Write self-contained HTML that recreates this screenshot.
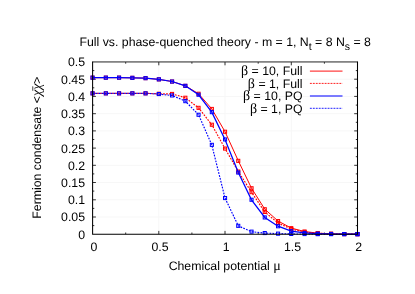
<!DOCTYPE html>
<html><head><meta charset="utf-8"><style>
html,body{margin:0;padding:0;background:#fff;}
svg{display:block;text-rendering:geometricPrecision;font-family:"Liberation Sans",sans-serif;fill:#000;}
</style></head><body>
<svg width="415" height="294" viewBox="0 0 415 294" style="will-change:transform;opacity:0.999">
<rect width="415" height="294" fill="#fff"/>
<g stroke="#f7f7f7" stroke-width="1"><line x1="92.6" y1="217.0" x2="357.5" y2="217.0"/><line x1="92.6" y1="199.8" x2="357.5" y2="199.8"/><line x1="92.6" y1="182.5" x2="357.5" y2="182.5"/><line x1="92.6" y1="165.3" x2="357.5" y2="165.3"/><line x1="92.6" y1="148.1" x2="357.5" y2="148.1"/><line x1="92.6" y1="130.9" x2="357.5" y2="130.9"/><line x1="92.6" y1="113.7" x2="357.5" y2="113.7"/><line x1="92.6" y1="96.4" x2="357.5" y2="96.4"/><line x1="92.6" y1="79.2" x2="357.5" y2="79.2"/><line x1="158.8" y1="234.2" x2="158.8" y2="62.0"/><line x1="225.0" y1="234.2" x2="225.0" y2="62.0"/><line x1="291.3" y1="234.2" x2="291.3" y2="62.0"/></g>
<g stroke="#000" stroke-width="0.8"><line x1="92.6" y1="225.6" x2="94.3" y2="225.6"/><line x1="357.5" y1="225.6" x2="355.8" y2="225.6"/><line x1="92.6" y1="217.0" x2="95.89999999999999" y2="217.0"/><line x1="357.5" y1="217.0" x2="354.2" y2="217.0"/><line x1="92.6" y1="208.4" x2="94.3" y2="208.4"/><line x1="357.5" y1="208.4" x2="355.8" y2="208.4"/><line x1="92.6" y1="199.8" x2="95.89999999999999" y2="199.8"/><line x1="357.5" y1="199.8" x2="354.2" y2="199.8"/><line x1="92.6" y1="191.1" x2="94.3" y2="191.1"/><line x1="357.5" y1="191.1" x2="355.8" y2="191.1"/><line x1="92.6" y1="182.5" x2="95.89999999999999" y2="182.5"/><line x1="357.5" y1="182.5" x2="354.2" y2="182.5"/><line x1="92.6" y1="173.9" x2="94.3" y2="173.9"/><line x1="357.5" y1="173.9" x2="355.8" y2="173.9"/><line x1="92.6" y1="165.3" x2="95.89999999999999" y2="165.3"/><line x1="357.5" y1="165.3" x2="354.2" y2="165.3"/><line x1="92.6" y1="156.7" x2="94.3" y2="156.7"/><line x1="357.5" y1="156.7" x2="355.8" y2="156.7"/><line x1="92.6" y1="148.1" x2="95.89999999999999" y2="148.1"/><line x1="357.5" y1="148.1" x2="354.2" y2="148.1"/><line x1="92.6" y1="139.5" x2="94.3" y2="139.5"/><line x1="357.5" y1="139.5" x2="355.8" y2="139.5"/><line x1="92.6" y1="130.9" x2="95.89999999999999" y2="130.9"/><line x1="357.5" y1="130.9" x2="354.2" y2="130.9"/><line x1="92.6" y1="122.3" x2="94.3" y2="122.3"/><line x1="357.5" y1="122.3" x2="355.8" y2="122.3"/><line x1="92.6" y1="113.7" x2="95.89999999999999" y2="113.7"/><line x1="357.5" y1="113.7" x2="354.2" y2="113.7"/><line x1="92.6" y1="105.1" x2="94.3" y2="105.1"/><line x1="357.5" y1="105.1" x2="355.8" y2="105.1"/><line x1="92.6" y1="96.4" x2="95.89999999999999" y2="96.4"/><line x1="357.5" y1="96.4" x2="354.2" y2="96.4"/><line x1="92.6" y1="87.8" x2="94.3" y2="87.8"/><line x1="357.5" y1="87.8" x2="355.8" y2="87.8"/><line x1="92.6" y1="79.2" x2="95.89999999999999" y2="79.2"/><line x1="357.5" y1="79.2" x2="354.2" y2="79.2"/><line x1="92.6" y1="70.6" x2="94.3" y2="70.6"/><line x1="357.5" y1="70.6" x2="355.8" y2="70.6"/><line x1="125.7" y1="234.2" x2="125.7" y2="232.5"/><line x1="125.7" y1="62.0" x2="125.7" y2="63.7"/><line x1="158.8" y1="234.2" x2="158.8" y2="230.89999999999998"/><line x1="158.8" y1="62.0" x2="158.8" y2="65.3"/><line x1="191.9" y1="234.2" x2="191.9" y2="232.5"/><line x1="191.9" y1="62.0" x2="191.9" y2="63.7"/><line x1="225.0" y1="234.2" x2="225.0" y2="230.89999999999998"/><line x1="225.0" y1="62.0" x2="225.0" y2="65.3"/><line x1="258.2" y1="234.2" x2="258.2" y2="232.5"/><line x1="258.2" y1="62.0" x2="258.2" y2="63.7"/><line x1="291.3" y1="234.2" x2="291.3" y2="230.89999999999998"/><line x1="291.3" y1="62.0" x2="291.3" y2="65.3"/><line x1="324.4" y1="234.2" x2="324.4" y2="232.5"/><line x1="324.4" y1="62.0" x2="324.4" y2="63.7"/></g>
<polyline points="92.6,77.7 105.8,77.7 119.1,77.7 132.3,77.8 145.6,78.2 158.8,79.4 172.1,81.5 185.3,85.8 198.6,93.8 211.8,108.9 225.0,131.7 238.3,160.8 251.5,188.2 264.8,209.2 278.0,221.0 291.3,228.1 304.5,231.5 317.8,233.2 331.0,233.8 344.3,234.0 357.5,234.1" fill="none" stroke="#ff0000" stroke-width="1.0"/>
<rect x="91.0" y="76.1" width="3.1" height="3.1" fill="#ff0000" fill-opacity="0.18" stroke="#ff0000" stroke-width="1.0"/>
<rect x="104.3" y="76.1" width="3.1" height="3.1" fill="#ff0000" fill-opacity="0.18" stroke="#ff0000" stroke-width="1.0"/>
<rect x="117.5" y="76.1" width="3.1" height="3.1" fill="#ff0000" fill-opacity="0.18" stroke="#ff0000" stroke-width="1.0"/>
<rect x="130.8" y="76.3" width="3.1" height="3.1" fill="#ff0000" fill-opacity="0.18" stroke="#ff0000" stroke-width="1.0"/>
<rect x="144.0" y="76.6" width="3.1" height="3.1" fill="#ff0000" fill-opacity="0.18" stroke="#ff0000" stroke-width="1.0"/>
<rect x="157.3" y="77.8" width="3.1" height="3.1" fill="#ff0000" fill-opacity="0.18" stroke="#ff0000" stroke-width="1.0"/>
<rect x="170.5" y="80.0" width="3.1" height="3.1" fill="#ff0000" fill-opacity="0.18" stroke="#ff0000" stroke-width="1.0"/>
<rect x="183.8" y="84.3" width="3.1" height="3.1" fill="#ff0000" fill-opacity="0.18" stroke="#ff0000" stroke-width="1.0"/>
<rect x="197.0" y="92.2" width="3.1" height="3.1" fill="#ff0000" fill-opacity="0.18" stroke="#ff0000" stroke-width="1.0"/>
<rect x="210.3" y="107.4" width="3.1" height="3.1" fill="#ff0000" fill-opacity="0.18" stroke="#ff0000" stroke-width="1.0"/>
<rect x="223.5" y="130.2" width="3.1" height="3.1" fill="#ff0000" fill-opacity="0.18" stroke="#ff0000" stroke-width="1.0"/>
<rect x="236.7" y="159.3" width="3.1" height="3.1" fill="#ff0000" fill-opacity="0.18" stroke="#ff0000" stroke-width="1.0"/>
<rect x="250.0" y="186.7" width="3.1" height="3.1" fill="#ff0000" fill-opacity="0.18" stroke="#ff0000" stroke-width="1.0"/>
<rect x="263.2" y="207.7" width="3.1" height="3.1" fill="#ff0000" fill-opacity="0.18" stroke="#ff0000" stroke-width="1.0"/>
<rect x="276.5" y="219.5" width="3.1" height="3.1" fill="#ff0000" fill-opacity="0.18" stroke="#ff0000" stroke-width="1.0"/>
<rect x="289.7" y="226.6" width="3.1" height="3.1" fill="#ff0000" fill-opacity="0.18" stroke="#ff0000" stroke-width="1.0"/>
<rect x="303.0" y="230.0" width="3.1" height="3.1" fill="#ff0000" fill-opacity="0.18" stroke="#ff0000" stroke-width="1.0"/>
<rect x="316.2" y="231.6" width="3.1" height="3.1" fill="#ff0000" fill-opacity="0.18" stroke="#ff0000" stroke-width="1.0"/>
<rect x="329.5" y="232.2" width="3.1" height="3.1" fill="#ff0000" fill-opacity="0.18" stroke="#ff0000" stroke-width="1.0"/>
<rect x="342.7" y="232.5" width="3.1" height="3.1" fill="#ff0000" fill-opacity="0.18" stroke="#ff0000" stroke-width="1.0"/>
<rect x="355.9" y="232.6" width="3.1" height="3.1" fill="#ff0000" fill-opacity="0.18" stroke="#ff0000" stroke-width="1.0"/>

<polyline points="92.6,93.3 105.8,93.3 119.1,93.3 132.3,93.3 145.6,93.3 158.8,93.8 172.1,93.9 185.3,97.7 198.6,107.9 211.8,124.7 225.0,148.5 238.3,171.5 251.5,192.2 264.8,212.0 278.0,223.0 291.3,229.0 304.5,232.0 317.8,233.3 331.0,233.9 344.3,234.1 357.5,234.1" fill="none" stroke="#ff0000" stroke-width="1.15" stroke-dasharray="1.75,1.25" stroke-dashoffset="1.5"/>
<rect x="91.0" y="91.8" width="3.1" height="3.1" fill="#ff0000" fill-opacity="0.18" stroke="#ff0000" stroke-width="1.0"/>
<rect x="104.3" y="91.8" width="3.1" height="3.1" fill="#ff0000" fill-opacity="0.18" stroke="#ff0000" stroke-width="1.0"/>
<rect x="117.5" y="91.8" width="3.1" height="3.1" fill="#ff0000" fill-opacity="0.18" stroke="#ff0000" stroke-width="1.0"/>
<rect x="130.8" y="91.8" width="3.1" height="3.1" fill="#ff0000" fill-opacity="0.18" stroke="#ff0000" stroke-width="1.0"/>
<rect x="144.0" y="91.8" width="3.1" height="3.1" fill="#ff0000" fill-opacity="0.18" stroke="#ff0000" stroke-width="1.0"/>
<rect x="157.3" y="92.2" width="3.1" height="3.1" fill="#ff0000" fill-opacity="0.18" stroke="#ff0000" stroke-width="1.0"/>
<rect x="170.5" y="92.4" width="3.1" height="3.1" fill="#ff0000" fill-opacity="0.18" stroke="#ff0000" stroke-width="1.0"/>
<rect x="183.8" y="96.2" width="3.1" height="3.1" fill="#ff0000" fill-opacity="0.18" stroke="#ff0000" stroke-width="1.0"/>
<rect x="197.0" y="106.3" width="3.1" height="3.1" fill="#ff0000" fill-opacity="0.18" stroke="#ff0000" stroke-width="1.0"/>
<rect x="210.3" y="123.2" width="3.1" height="3.1" fill="#ff0000" fill-opacity="0.18" stroke="#ff0000" stroke-width="1.0"/>
<rect x="223.5" y="147.0" width="3.1" height="3.1" fill="#ff0000" fill-opacity="0.18" stroke="#ff0000" stroke-width="1.0"/>
<rect x="236.7" y="170.0" width="3.1" height="3.1" fill="#ff0000" fill-opacity="0.18" stroke="#ff0000" stroke-width="1.0"/>
<rect x="250.0" y="190.6" width="3.1" height="3.1" fill="#ff0000" fill-opacity="0.18" stroke="#ff0000" stroke-width="1.0"/>
<rect x="263.2" y="210.4" width="3.1" height="3.1" fill="#ff0000" fill-opacity="0.18" stroke="#ff0000" stroke-width="1.0"/>
<rect x="276.5" y="221.4" width="3.1" height="3.1" fill="#ff0000" fill-opacity="0.18" stroke="#ff0000" stroke-width="1.0"/>
<rect x="289.7" y="227.5" width="3.1" height="3.1" fill="#ff0000" fill-opacity="0.18" stroke="#ff0000" stroke-width="1.0"/>
<rect x="303.0" y="230.4" width="3.1" height="3.1" fill="#ff0000" fill-opacity="0.18" stroke="#ff0000" stroke-width="1.0"/>
<rect x="316.2" y="231.8" width="3.1" height="3.1" fill="#ff0000" fill-opacity="0.18" stroke="#ff0000" stroke-width="1.0"/>
<rect x="329.5" y="232.3" width="3.1" height="3.1" fill="#ff0000" fill-opacity="0.18" stroke="#ff0000" stroke-width="1.0"/>
<rect x="342.7" y="232.5" width="3.1" height="3.1" fill="#ff0000" fill-opacity="0.18" stroke="#ff0000" stroke-width="1.0"/>
<rect x="355.9" y="232.6" width="3.1" height="3.1" fill="#ff0000" fill-opacity="0.18" stroke="#ff0000" stroke-width="1.0"/>

<polyline points="92.6,77.7 105.8,77.7 119.1,77.7 132.3,77.8 145.6,78.2 158.8,79.4 172.1,81.5 185.3,85.8 198.6,94.8 211.8,112.2 225.0,139.5 238.3,172.6 251.5,199.8 264.8,217.5 278.0,226.2 291.3,231.1 304.5,232.9 317.8,233.7 331.0,234.0 344.3,234.1 357.5,234.2" fill="none" stroke="#0000ff" stroke-width="1.25"/>
<rect x="91.0" y="76.1" width="3.1" height="3.1" fill="#0000ff" fill-opacity="0.18" stroke="#0000ff" stroke-width="1.0"/>
<rect x="104.3" y="76.1" width="3.1" height="3.1" fill="#0000ff" fill-opacity="0.18" stroke="#0000ff" stroke-width="1.0"/>
<rect x="117.5" y="76.1" width="3.1" height="3.1" fill="#0000ff" fill-opacity="0.18" stroke="#0000ff" stroke-width="1.0"/>
<rect x="130.8" y="76.3" width="3.1" height="3.1" fill="#0000ff" fill-opacity="0.18" stroke="#0000ff" stroke-width="1.0"/>
<rect x="144.0" y="76.6" width="3.1" height="3.1" fill="#0000ff" fill-opacity="0.18" stroke="#0000ff" stroke-width="1.0"/>
<rect x="157.3" y="77.8" width="3.1" height="3.1" fill="#0000ff" fill-opacity="0.18" stroke="#0000ff" stroke-width="1.0"/>
<rect x="170.5" y="80.0" width="3.1" height="3.1" fill="#0000ff" fill-opacity="0.18" stroke="#0000ff" stroke-width="1.0"/>
<rect x="183.8" y="84.3" width="3.1" height="3.1" fill="#0000ff" fill-opacity="0.18" stroke="#0000ff" stroke-width="1.0"/>
<rect x="197.0" y="93.2" width="3.1" height="3.1" fill="#0000ff" fill-opacity="0.18" stroke="#0000ff" stroke-width="1.0"/>
<rect x="210.3" y="110.6" width="3.1" height="3.1" fill="#0000ff" fill-opacity="0.18" stroke="#0000ff" stroke-width="1.0"/>
<rect x="223.5" y="137.9" width="3.1" height="3.1" fill="#0000ff" fill-opacity="0.18" stroke="#0000ff" stroke-width="1.0"/>
<rect x="236.7" y="171.0" width="3.1" height="3.1" fill="#0000ff" fill-opacity="0.18" stroke="#0000ff" stroke-width="1.0"/>
<rect x="250.0" y="198.2" width="3.1" height="3.1" fill="#0000ff" fill-opacity="0.18" stroke="#0000ff" stroke-width="1.0"/>
<rect x="263.2" y="215.9" width="3.1" height="3.1" fill="#0000ff" fill-opacity="0.18" stroke="#0000ff" stroke-width="1.0"/>
<rect x="276.5" y="224.7" width="3.1" height="3.1" fill="#0000ff" fill-opacity="0.18" stroke="#0000ff" stroke-width="1.0"/>
<rect x="289.7" y="229.6" width="3.1" height="3.1" fill="#0000ff" fill-opacity="0.18" stroke="#0000ff" stroke-width="1.0"/>
<rect x="303.0" y="231.4" width="3.1" height="3.1" fill="#0000ff" fill-opacity="0.18" stroke="#0000ff" stroke-width="1.0"/>
<rect x="316.2" y="232.1" width="3.1" height="3.1" fill="#0000ff" fill-opacity="0.18" stroke="#0000ff" stroke-width="1.0"/>
<rect x="329.5" y="232.4" width="3.1" height="3.1" fill="#0000ff" fill-opacity="0.18" stroke="#0000ff" stroke-width="1.0"/>
<rect x="342.7" y="232.5" width="3.1" height="3.1" fill="#0000ff" fill-opacity="0.18" stroke="#0000ff" stroke-width="1.0"/>
<rect x="355.9" y="232.6" width="3.1" height="3.1" fill="#0000ff" fill-opacity="0.18" stroke="#0000ff" stroke-width="1.0"/>

<polyline points="92.6,93.3 105.8,93.3 119.1,93.3 132.3,93.3 145.6,93.3 158.8,94.1 172.1,95.5 185.3,101.1 198.6,114.8 211.8,144.9 225.0,198.0 238.3,225.9 251.5,231.7 264.8,233.1 278.0,233.6 291.3,233.9 304.5,234.1 317.8,234.1 331.0,234.2 344.3,234.2 357.5,234.2" fill="none" stroke="#0000ff" stroke-width="1.15" stroke-dasharray="1.75,1.25"/>
<rect x="91.0" y="91.8" width="3.1" height="3.1" fill="#0000ff" fill-opacity="0.18" stroke="#0000ff" stroke-width="1.0"/>
<rect x="104.3" y="91.8" width="3.1" height="3.1" fill="#0000ff" fill-opacity="0.18" stroke="#0000ff" stroke-width="1.0"/>
<rect x="117.5" y="91.8" width="3.1" height="3.1" fill="#0000ff" fill-opacity="0.18" stroke="#0000ff" stroke-width="1.0"/>
<rect x="130.8" y="91.8" width="3.1" height="3.1" fill="#0000ff" fill-opacity="0.18" stroke="#0000ff" stroke-width="1.0"/>
<rect x="144.0" y="91.8" width="3.1" height="3.1" fill="#0000ff" fill-opacity="0.18" stroke="#0000ff" stroke-width="1.0"/>
<rect x="157.3" y="92.5" width="3.1" height="3.1" fill="#0000ff" fill-opacity="0.18" stroke="#0000ff" stroke-width="1.0"/>
<rect x="170.5" y="93.9" width="3.1" height="3.1" fill="#0000ff" fill-opacity="0.18" stroke="#0000ff" stroke-width="1.0"/>
<rect x="183.8" y="99.6" width="3.1" height="3.1" fill="#0000ff" fill-opacity="0.18" stroke="#0000ff" stroke-width="1.0"/>
<rect x="197.0" y="113.2" width="3.1" height="3.1" fill="#0000ff" fill-opacity="0.18" stroke="#0000ff" stroke-width="1.0"/>
<rect x="210.3" y="143.3" width="3.1" height="3.1" fill="#0000ff" fill-opacity="0.18" stroke="#0000ff" stroke-width="1.0"/>
<rect x="223.5" y="196.5" width="3.1" height="3.1" fill="#0000ff" fill-opacity="0.18" stroke="#0000ff" stroke-width="1.0"/>
<rect x="236.7" y="224.3" width="3.1" height="3.1" fill="#0000ff" fill-opacity="0.18" stroke="#0000ff" stroke-width="1.0"/>
<rect x="250.0" y="230.1" width="3.1" height="3.1" fill="#0000ff" fill-opacity="0.18" stroke="#0000ff" stroke-width="1.0"/>
<rect x="263.2" y="231.5" width="3.1" height="3.1" fill="#0000ff" fill-opacity="0.18" stroke="#0000ff" stroke-width="1.0"/>
<rect x="276.5" y="232.1" width="3.1" height="3.1" fill="#0000ff" fill-opacity="0.18" stroke="#0000ff" stroke-width="1.0"/>
<rect x="289.7" y="232.4" width="3.1" height="3.1" fill="#0000ff" fill-opacity="0.18" stroke="#0000ff" stroke-width="1.0"/>
<rect x="303.0" y="232.5" width="3.1" height="3.1" fill="#0000ff" fill-opacity="0.18" stroke="#0000ff" stroke-width="1.0"/>
<rect x="316.2" y="232.6" width="3.1" height="3.1" fill="#0000ff" fill-opacity="0.18" stroke="#0000ff" stroke-width="1.0"/>
<rect x="329.5" y="232.6" width="3.1" height="3.1" fill="#0000ff" fill-opacity="0.18" stroke="#0000ff" stroke-width="1.0"/>
<rect x="342.7" y="232.6" width="3.1" height="3.1" fill="#0000ff" fill-opacity="0.18" stroke="#0000ff" stroke-width="1.0"/>
<rect x="355.9" y="232.6" width="3.1" height="3.1" fill="#0000ff" fill-opacity="0.18" stroke="#0000ff" stroke-width="1.0"/>

<line x1="92.1" y1="61.95" x2="358.0" y2="61.95" stroke="#222" stroke-width="1"/>
<path d="M92.6,61.7 V234.2 H357.5 V61.7" fill="none" stroke="#000" stroke-width="1.05"/>
<g font-size="12.3"><text x="85.0" y="238.6" text-anchor="end">0</text><text x="85.0" y="221.4" text-anchor="end">0.05</text><text x="85.0" y="204.2" text-anchor="end">0.1</text><text x="85.0" y="186.9" text-anchor="end">0.15</text><text x="85.0" y="169.7" text-anchor="end">0.2</text><text x="85.0" y="152.5" text-anchor="end">0.25</text><text x="85.0" y="135.3" text-anchor="end">0.3</text><text x="85.0" y="118.1" text-anchor="end">0.35</text><text x="85.0" y="100.8" text-anchor="end">0.4</text><text x="85.0" y="83.6" text-anchor="end">0.45</text><text x="85.0" y="66.4" text-anchor="end">0.5</text><text x="93.8" y="250.6" text-anchor="middle">0</text><text x="160.0" y="250.6" text-anchor="middle">0.5</text><text x="226.2" y="250.6" text-anchor="middle">1</text><text x="292.5" y="250.6" text-anchor="middle">1.5</text><text x="358.7" y="250.6" text-anchor="middle">2</text></g>
<text x="225.2" y="46.1" text-anchor="middle" font-size="12.3">Full vs. phase-quenched theory - m = 1, N<tspan dy="4.2" font-size="10.5">t</tspan><tspan dy="-4.2"> = 8 N</tspan><tspan dy="4.2" font-size="10.5">s</tspan><tspan dy="-4.2"> = 8</tspan></text>
<text x="224.7" y="269.8" text-anchor="middle" font-size="12.3">Chemical potential <tspan font-family="Liberation Serif, serif" font-size="14">μ</tspan></text>
<text transform="translate(40.9,147.6) rotate(-90)" text-anchor="middle" font-size="12.3">Fermion condensate &lt;<tspan font-family="Liberation Serif, serif" font-size="14" font-style="italic">χ̄χ</tspan>&gt;</text>
<text x="302.5" y="75.3" text-anchor="end" font-size="12.3"><tspan font-family="Liberation Serif, serif" font-size="14">β</tspan> = 10, Full</text><line x1="309.9" y1="71.1" x2="342.5" y2="71.1" stroke="#ff4040" stroke-width="1.1"/><text x="302.5" y="87.8" text-anchor="end" font-size="12.3"><tspan font-family="Liberation Serif, serif" font-size="14">β</tspan> = 1, Full</text><line x1="309.9" y1="83.4" x2="342.5" y2="83.4" stroke="#ff2020" stroke-width="1.0" stroke-dasharray="1.9,1.05"/><text x="302.5" y="100.3" text-anchor="end" font-size="12.3"><tspan font-family="Liberation Serif, serif" font-size="14">β</tspan> = 10, PQ</text><line x1="309.9" y1="96.0" x2="342.5" y2="96.0" stroke="#5050ff" stroke-width="1.5"/><text x="302.5" y="112.8" text-anchor="end" font-size="12.3"><tspan font-family="Liberation Serif, serif" font-size="14">β</tspan> = 1, PQ</text><line x1="309.9" y1="108.3" x2="342.5" y2="108.3" stroke="#2020ff" stroke-width="1.0" stroke-dasharray="1.9,1.05"/>
</svg>
</body></html>
